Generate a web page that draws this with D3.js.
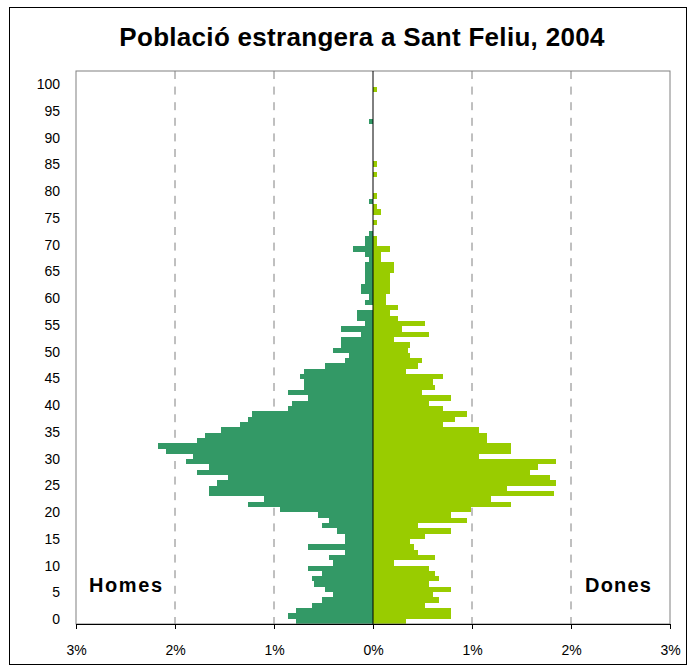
<!DOCTYPE html>
<html><head><meta charset="utf-8">
<script src="https://cdn.jsdelivr.net/npm/d3@7"></script>
<style>
body{margin:0;background:#fff}
svg{display:block}
text{font-family:"Liberation Sans",Arial,sans-serif;fill:#000}
</style>
</head><body>
<svg id="chart" width="693" height="670"></svg>
<script>
// ---------- DATA ----------
const title = "Població estrangera a Sant Feliu, 2004";
const seriesNames = ["Homes", "Dones"];
const ages = d3.range(0, 104); // age categories 0..103
// % of foreign population, men (left side), by age 0..103
const men = [
  0.78,0.86,0.78,0.62,0.52,0.40,0.48,0.60,0.62,0.52,
  0.66,0.40,0.44,0.28,0.66,0.28,0.28,0.36,0.52,0.44,
  0.56,0.94,1.26,1.10,1.66,1.66,1.58,1.46,1.78,1.66,
  1.89,1.82,2.09,2.17,1.78,1.70,1.54,1.34,1.26,1.22,
  0.86,0.82,0.66,0.86,0.70,0.70,0.74,0.70,0.48,0.28,
  0.24,0.40,0.32,0.32,0.12,0.32,0.08,0.16,0.16,0.00,
  0.08,0.04,0.12,0.12,0.08,0.08,0.08,0.08,0.04,0.08,
  0.20,0.08,0.08,0.04,0.00,0.00,0.00,0.00,0.00,0.04,
  0.00,0.00,0.00,0.00,0.00,0.00,0.00,0.00,0.00,0.00,
  0.00,0.00,0.00,0.00,0.04,0.00,0.00,0.00,0.00,0.00,
  0.00,0.00,0.00,0.00
];
// % of foreign population, women (right side), by age 0..103
const women = [
  0.33,0.79,0.79,0.53,0.67,0.61,0.79,0.57,0.67,0.63,
  0.57,0.21,0.63,0.45,0.41,0.37,0.53,0.79,0.45,0.95,
  0.79,0.99,1.39,1.19,1.83,1.35,1.85,1.79,1.59,1.67,
  1.85,1.07,1.39,1.39,1.15,1.15,1.07,0.71,0.83,0.95,
  0.71,0.57,0.79,0.49,0.63,0.61,0.71,0.33,0.45,0.49,
  0.37,0.35,0.37,0.21,0.57,0.29,0.53,0.25,0.17,0.25,
  0.13,0.13,0.17,0.17,0.17,0.17,0.21,0.21,0.08,0.08,
  0.17,0.04,0.04,0.00,0.00,0.04,0.00,0.08,0.04,0.00,
  0.04,0.00,0.00,0.00,0.04,0.00,0.04,0.00,0.00,0.00,
  0.00,0.00,0.00,0.00,0.00,0.00,0.00,0.00,0.00,0.00,
  0.04,0.00,0.00,0.00
];
const xTicks = [-3, -2, -1, 0, 1, 2, 3];
const gridTicks = [-2, -1, 1, 2];
const yTickLabels = d3.range(0, 101, 5);

// ---------- LAYOUT ----------
const svg = d3.select("#chart");
const plot = {left: 76, right: 670, top: 71, bottom: 624};

const x = d3.scaleLinear().domain([-3, 3]).range([plot.left, plot.right]);
const y = d3.scaleBand().domain(ages).range([plot.bottom, plot.top]).padding(0);
const yLab = d3.scaleLinear().domain([0, 100]).range([619.3, 84.3]);

// outer border
svg.append("rect")
  .attr("x", 9.5).attr("y", 7.5).attr("width", 677).attr("height", 657)
  .attr("fill", "#fff").attr("stroke", "#000").attr("stroke-width", 1);

// title
svg.append("text")
  .attr("x", 362).attr("y", 46)
  .attr("text-anchor", "middle")
  .style("font-size", "26px").style("font-weight", "bold")
  .style("letter-spacing", "0.3px")
  .text(title);

// dashed grid
svg.append("g").selectAll("line").data(gridTicks).join("line")
  .attr("x1", d => x(d)).attr("x2", d => x(d))
  .attr("y1", plot.top).attr("y2", plot.bottom)
  .attr("stroke", "#808080").attr("stroke-width", 1)
  .attr("stroke-dasharray", "8,7.6");

// bars
svg.append("g").selectAll("rect").data(ages).join("rect")
  .attr("x", (d, i) => x(-men[i]))
  .attr("width", (d, i) => x(0) - x(-men[i]))
  .attr("y", d => y(d))
  .attr("height", y.bandwidth())
  .attr("fill", "#339966")
  .attr("shape-rendering", "crispEdges");

svg.append("g").selectAll("rect").data(ages).join("rect")
  .attr("x", x(0))
  .attr("width", (d, i) => x(women[i]) - x(0))
  .attr("y", d => y(d))
  .attr("height", y.bandwidth())
  .attr("fill", "#99CC00")
  .attr("shape-rendering", "crispEdges");

// plot border
svg.append("rect")
  .attr("x", plot.left).attr("y", plot.top)
  .attr("width", plot.right - plot.left).attr("height", plot.bottom - plot.top)
  .attr("fill", "none").attr("stroke", "#808080").attr("stroke-width", 1);

// zero line
svg.append("line")
  .attr("x1", x(0)).attr("x2", x(0))
  .attr("y1", plot.top).attr("y2", plot.bottom)
  .attr("stroke", "#000").attr("stroke-width", 1);

// x axis
const xAxis = svg.append("g")
  .attr("transform", `translate(0,${plot.bottom})`)
  .call(d3.axisBottom(x).tickValues(xTicks).tickSize(5).tickSizeOuter(0).tickPadding(16)
    .tickFormat(d => Math.abs(d) + "%"));
xAxis.select(".domain").attr("stroke", "#000");
xAxis.selectAll(".tick line").attr("stroke", "#000");
xAxis.selectAll("text")
  .style("font-size", "14px").attr("fill", "#000")
  .style("font-family", "'Liberation Sans', Arial, sans-serif");

// y labels
svg.append("g").selectAll("text").data(yTickLabels).join("text")
  .attr("x", 60).attr("y", d => yLab(d)).attr("dy", "0.35em")
  .attr("text-anchor", "end")
  .style("font-size", "14px")
  .text(d => d);

// series labels
svg.append("text")
  .attr("x", 89).attr("y", 591.5)
  .style("font-size", "20px").style("font-weight", "bold")
  .style("letter-spacing", "1.6px")
  .text(seriesNames[0]);
svg.append("text")
  .attr("x", 585).attr("y", 591.5)
  .style("font-size", "20px").style("font-weight", "bold")
  .style("letter-spacing", "1.2px")
  .text(seriesNames[1]);
</script>
</body></html>
